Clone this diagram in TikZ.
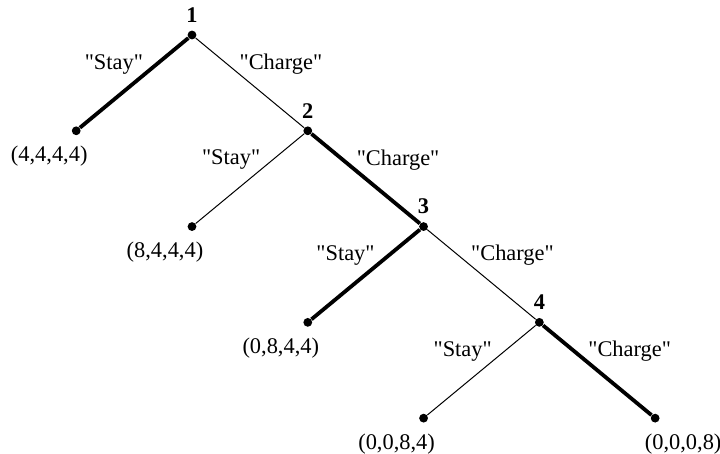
\documentclass[tikz,border=0pt]{standalone}
\usepackage{fontspec}
\setmainfont{Liberation Serif}[Ligatures=TeXOff]
\usetikzlibrary{positioning}

\begin{document}
\fontsize{11.2}{13.4}\selectfont
\begin{tikzpicture}[
  node distance=44.5pt and 54.5pt,
  dot/.style={circle, fill=black, inner sep=0pt, minimum size=4.4pt},
  decision/.style={dot, label={[font=\bfseries]above:#1}},
  payleft/.style={dot, label={[xshift=-13.5pt, label distance=1.5pt]below:{#1}}},
  payright/.style={dot, label={[xshift=14pt, label distance=1.5pt]below:{#1}}},
  thinedge/.style={line width=0.5pt},
  thickedge/.style={line width=1.9pt},
  stay/.style={pos=0.29, anchor=east, inner sep=0pt, xshift=-6pt},
  charge/.style={pos=0.29, anchor=west, inner sep=0pt, xshift=6pt}
]
  \useasboundingbox (0,0) rectangle (360pt,-227pt);

  % Nodes
  \node[decision=1] (n1) at (96pt,-17.5pt) {};
  \node[payleft={(4,4,4,4)}, below left=of n1] (p1) {};
  \node[decision=2, below right=of n1] (n2) {};
  \node[payleft={(8,4,4,4)}, below left=of n2] (p2) {};
  \node[decision=3, below right=of n2] (n3) {};
  \node[payleft={(0,8,4,4)}, below left=of n3] (p3) {};
  \node[decision=4, below right=of n3] (n4) {};
  \node[payleft={(0,0,8,4)}, below left=of n4] (p4) {};
  \node[payright={(0,0,0,8)}, below right=of n4] (p5) {};

  % Edges
  \draw[thickedge] (n1) -- node[stay] {"Stay"} (p1);
  \draw[thinedge] (n1) -- node[charge] {"Charge"} (n2);
  \draw[thinedge] (n2) -- node[stay] {"Stay"} (p2);
  \draw[thickedge] (n2) -- node[charge] {"Charge"} (n3);
  \draw[thickedge] (n3) -- node[stay] {"Stay"} (p3);
  \draw[thinedge] (n3) -- node[charge] {"Charge"} (n4);
  \draw[thinedge] (n4) -- node[stay] {"Stay"} (p4);
  \draw[thickedge] (n4) -- node[charge] {"Charge"} (p5);
\end{tikzpicture}
\end{document}
